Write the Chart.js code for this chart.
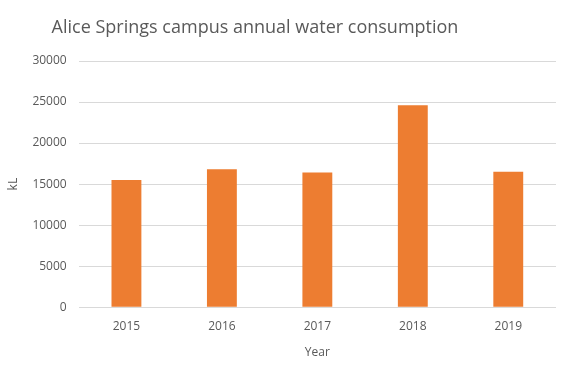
<!DOCTYPE html>
<html>
<head>
<meta charset="utf-8">
<script src="https://cdn.jsdelivr.net/npm/chart.js@4"></script>
<style>
  html, body { margin: 0; padding: 0; background: #fff; }
  #wrap { width: 572px; height: 381px; }
</style>
</head>
<body>
<div id="wrap"><canvas id="myChart"></canvas></div>
<script>
// data
const years = ["2015", "2016", "2017", "2018", "2019"];
const consumption = [15500, 16800, 16400, 24600, 16500];
const yTicks = [0, 5000, 10000, 15000, 20000, 25000, 30000];
const chartTitle = "Alice Springs campus annual water consumption";

const textColor = "#595959";
const fontFamily = "'Open Sans', 'Noto Sans', sans-serif";

// title sits a bit left of centre like in the original, so draw it by hand
const titlePlugin = {
  id: "leftTitle",
  afterDraw(chart) {
    const ctx = chart.ctx;
    ctx.save();
    ctx.fillStyle = textColor;
    ctx.font = "18px " + fontFamily;
    ctx.textAlign = "center";
    ctx.textBaseline = "middle";
    ctx.fillText(chartTitle, 255, 28);
    ctx.restore();
  }
};

const data = {
  labels: years,
  datasets: [{
    label: "kL",
    data: consumption,
    backgroundColor: "#ED7D31",
    barPercentage: 0.313,
    categoryPercentage: 1
  }]
};

const config = {
  type: "bar",
  data,
  plugins: [titlePlugin],
  options: {
    responsive: true,
    maintainAspectRatio: false,
    animation: false,
    layout: { padding: { left: 6, right: 16, top: 61, bottom: 17 } },
    plugins: {
      legend: { display: false },
      tooltip: { enabled: false },
      title: { display: false }
    },
    scales: {
      x: {
        grid: { display: false },
        border: { display: false },
        ticks: { color: textColor, font: { family: fontFamily, size: 12 }, padding: 4 },
        title: {
          display: true,
          text: "Year",
          color: textColor,
          font: { family: fontFamily, size: 12 },
          padding: { top: 8 }
        }
      },
      y: {
        min: 0,
        max: 30000,
        afterBuildTicks: (axis) => { axis.ticks = yTicks.map((v) => ({ value: v })); },
        grid: { color: "#d9d9d9", lineWidth: 1, drawTicks: false },
        border: { display: false },
        ticks: {
          color: textColor,
          font: { family: fontFamily, size: 12 },
          padding: 12,
          callback: (v) => String(v)
        },
        title: {
          display: true,
          text: "kL",
          color: textColor,
          font: { family: fontFamily, size: 12 },
          padding: { top: 0, bottom: 0 }
        }
      }
    }
  }
};

const myChart = new Chart(document.getElementById("myChart"), config);
</script>
</body>
</html>
